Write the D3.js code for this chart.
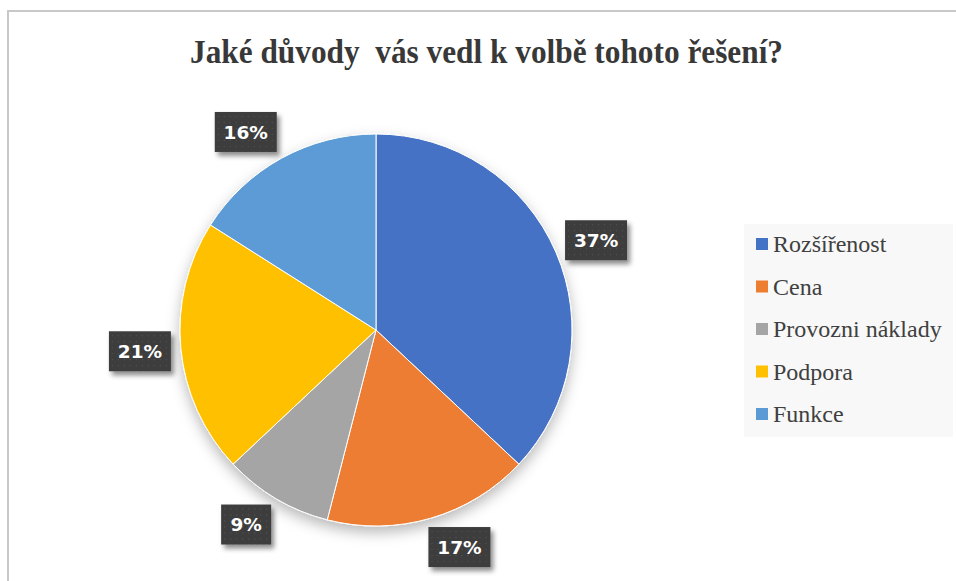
<!DOCTYPE html>
<html>
<head>
<meta charset="utf-8">
<script src="https://d3js.org/d3.v7.min.js"></script>
<style>
body { margin: 0; background: #fff; }
</style>
</head>
<body>
<div id="chart"></div>
<script>
// data
var categories = ["Rozšířenost", "Cena", "Provozni náklady", "Podpora", "Funkce"];
var values = [37, 17, 9, 21, 16];
var colors = ["#4472c4", "#ed7d31", "#a5a5a5", "#ffc000", "#5b9bd5"];
var title = "Jaké důvody  vás vedl k volbě tohoto řešení?";

var width = 956, height = 581;
var cx = 376, cy = 330, radius = 196, anchorRadius = 206;

var svg = d3.select("#chart").append("svg")
  .attr("width", width)
  .attr("height", height);

var defs = svg.append("defs");

// shadow under the pie
defs.append("filter").attr("id", "pieShadow")
  .attr("x", "-20%").attr("y", "-20%").attr("width", "140%").attr("height", "140%")
  .append("feDropShadow")
    .attr("dx", 0).attr("dy", 6).attr("stdDeviation", 7)
    .attr("flood-color", "#000").attr("flood-opacity", 0.28);

// shadow under the label boxes
defs.append("filter").attr("id", "boxShadow")
  .attr("x", "-30%").attr("y", "-30%").attr("width", "170%").attr("height", "170%")
  .append("feDropShadow")
    .attr("dx", 3).attr("dy", 4).attr("stdDeviation", 2.5)
    .attr("flood-color", "#000").attr("flood-opacity", 0.45);

// dotted fill of the label boxes
var pat = defs.append("pattern").attr("id", "dots")
  .attr("width", 6).attr("height", 6).attr("patternUnits", "userSpaceOnUse");
pat.append("rect").attr("width", 6).attr("height", 6).attr("fill", "#3d3d3d");
pat.append("rect").attr("x", 2).attr("y", 2).attr("width", 1).attr("height", 1).attr("fill", "#575757");

// outer frame
svg.append("rect")
  .attr("x", 8).attr("y", 11)
  .attr("width", width + 20).attr("height", height + 20)
  .attr("fill", "none")
  .attr("stroke", "#c8c8c8")
  .attr("stroke-width", 2);

// title
svg.append("text")
  .attr("x", 190)
  .attr("y", 63)
  .attr("textLength", 593)
  .attr("lengthAdjust", "spacingAndGlyphs")
  .style("white-space", "pre")
  .style("font-family", "'Liberation Serif', 'Times New Roman', serif")
  .style("font-weight", "bold")
  .style("font-size", "33px")
  .style("fill", "#383838")
  .text(title);

var pie = d3.pie().sort(null).value(function(d) { return d; });
var arcs = pie(values);

var arc = d3.arc().innerRadius(0).outerRadius(radius);

var g = svg.append("g").attr("transform", "translate(" + cx + "," + cy + ")");

g.append("g")
  .attr("filter", "url(#pieShadow)")
  .selectAll("path")
  .data(arcs)
  .join("path")
    .attr("d", arc)
    .attr("fill", function(d, i) { return colors[i]; })
    .attr("stroke", "#fff")
    .attr("stroke-width", 1);

// data labels, "outside end": box pushed off a point just outside the rim
function boxW(d) { return d.data >= 10 ? 62 : 50; }
var boxH = 40;
function clamp(v) { return Math.max(-1, Math.min(1, v)); }

var labels = g.selectAll(".lbl")
  .data(arcs)
  .join("g")
    .attr("class", "lbl")
    .attr("transform", function(d) {
      var a = (d.startAngle + d.endAngle) / 2;
      var s = Math.sin(a), c = Math.cos(a);
      var x = anchorRadius * s + boxW(d) / 2 * clamp(3 * s);
      var y = -anchorRadius * c - boxH / 2 * c;
      return "translate(" + x + "," + y + ")";
    });

labels.append("rect")
  .attr("x", function(d) { return -boxW(d) / 2; })
  .attr("y", -boxH / 2)
  .attr("width", boxW)
  .attr("height", boxH)
  .attr("fill", "url(#dots)")
  .attr("filter", "url(#boxShadow)");

labels.append("text")
  .attr("text-anchor", "middle")
  .attr("dy", "0.36em")
  .style("font-family", "'DejaVu Sans', sans-serif")
  .style("font-weight", "bold")
  .style("font-size", "18.5px")
  .style("fill", "#fff")
  .text(function(d) { return d.data + "%"; });

// legend
var legend = svg.append("g").attr("transform", "translate(744,224)");
legend.append("rect")
  .attr("width", 209).attr("height", 213)
  .attr("fill", "#f8f8f8");

var items = legend.selectAll(".item")
  .data(categories)
  .join("g")
    .attr("class", "item")
    .attr("transform", function(d, i) { return "translate(12," + (20 + i * 42.5) + ")"; });

items.append("rect")
  .attr("x", 0).attr("y", -6)
  .attr("width", 12).attr("height", 12)
  .attr("fill", function(d, i) { return colors[i]; });

items.append("text")
  .attr("x", 17)
  .attr("y", 8)
  .style("font-family", "'Liberation Serif', 'Times New Roman', serif")
  .style("font-size", "24px")
  .style("fill", "#404040")
  .text(function(d) { return d; });
</script>
</body>
</html>
